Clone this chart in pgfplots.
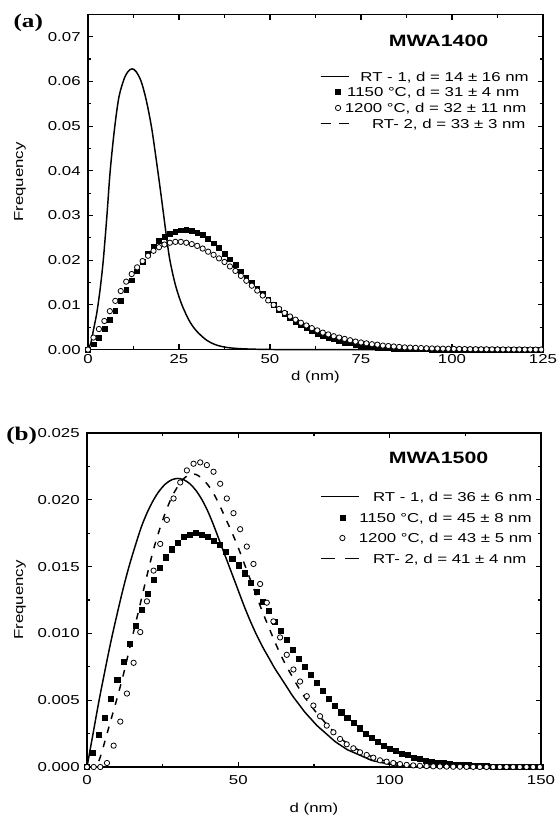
\documentclass[border=0pt]{standalone}
\usepackage{fontspec}
\setmainfont{Liberation Sans}[FakeStretch=1.3]
\newfontfamily\panelfont{Liberation Serif}[FakeStretch=1.3]
\usepackage{pgfplots}
\pgfplotsset{compat=1.18}

\pgfplotsset{
  panel/.style={
    scale only axis, anchor=south west, clip=false,
    tick align=inside,
    axis line style={line width=0.9pt},
    tick style={line width=0.8pt, black},
    major tick length=4pt, minor tick length=2.5pt,
    minor x tick num=1, minor y tick num=1,
    tick label style={font=\fontsize{9.7}{11}\selectfont},
    label style={font=\fontsize{9.7}{11}\selectfont},
    /pgf/number format/assume math mode=true,
    scaled y ticks=false,
    yticklabel style={/pgf/number format/fixed, /pgf/number format/fixed zerofill, xshift=-2pt},
    legend cell align=left,
    legend style={draw=none, fill=none, inner sep=0pt, outer sep=0pt,
      anchor=north west, font=\fontsize{9.7}{11}\selectfont,
      nodes={inner sep=0pt, text height=8pt, text depth=1pt}},
  },
  lineimg/.style={legend image code/.code={\draw[##1] (0pt,0pt) -- (#1,0pt);}},
  markimg/.style={legend image code/.code={\draw[##1] plot coordinates {(#1,0pt)};}},
  sq/.style={only marks, mark=square*, black, mark options={solid}},
  ci/.style={only marks, mark=*, mark options={solid, fill=white, draw=black, line width=0.6pt}},
}

\begin{document}
\begin{tikzpicture}
\useasboundingbox (0,0) rectangle (419.25pt,-613.5pt);

% ---------------- (a) MWA1400
\begin{axis}[panel,
  at={(66pt,-262.2pt)}, width=341.25pt, height=251.5pt,
  xmin=0, xmax=125, ymin=0, ymax=0.075,
  xtick={0,25,50,75,100,125},
  ytick={0,0.01,0.02,0.03,0.04,0.05,0.06,0.07},
  yticklabel style={/pgf/number format/precision=2},
  xlabel={d (nm)}, ylabel={Frequency},
  xlabel style={at={(axis description cs:0.5,-0.0817)}, anchor=center},
  ylabel style={at={(axis description cs:-0.1494,0.5)}, anchor=center},
  legend style={at={(axis description cs:0.5099,0.8328)}, row sep=2.85pt},
]
\addplot[black, line width=1.1pt, smooth, tension=0.5, lineimg=21pt] coordinates {
(0,0)(0.8,0.0015)(1.5,0.0044)(2.4,0.0081)(3.3,0.0133)(4.2,0.0200)(5.2,0.0300)
(6.1,0.0400)(7.3,0.0495)(8.5,0.0565)(9.9,0.0605)(11,0.0622)(12.1,0.0628)
(13.2,0.0622)(14.6,0.0600)(16,0.0558)(17.5,0.0495)(19,0.0410)(20,0.0350)
(20.8,0.0300)(21.6,0.0250)(22.5,0.0200)(24,0.0145)(25.8,0.0100)(28,0.0062)
(30,0.0040)(32.6,0.0021)(35,0.0011)(38,0.0005)(42,0.0002)(48,0.00005)
(55,0)(60,0)(70,0)(125,0)};
\addlegendentry{\hspace{8.25pt}RT - 1, d = 14 ± 16 nm}

\addplot[sq, mark size=1.8pt, markimg=13pt] coordinates {
(0,0)(1.5,0.0012)(3,0.0027)(4.5,0.0047)(6,0.0066)(7.5,0.0086)(9,0.0110)
(10.5,0.0133)(12,0.0155)(13.5,0.0175)(15,0.0196)(16.5,0.0215)(18,0.0231)
(19.5,0.0243)(21,0.0252)(22.5,0.0259)(24,0.0264)(25.5,0.0267)(27,0.0268)
(28.5,0.0266)(30,0.0262)(31.5,0.0256)(33,0.0248)(34.5,0.0238)(36,0.0227)
(37.5,0.0215)(39,0.0202)(40.5,0.0189)(42,0.0175)(43.5,0.0162)(45,0.0149)
(46.5,0.0136)(48,0.0124)(49.5,0.0112)(51,0.0100)(52.5,0.0090)(54,0.0080)
(55.5,0.0071)(57,0.0063)(58.5,0.0055)(60,0.0048)(61.5,0.0042)(63,0.0036)
(64.5,0.0031)(66,0.0027)(67.5,0.0023)(69,0.0019)(70.5,0.0016)(72,0.0014)
(73.5,0.0011)(75,0.0009)(76.5,0.0008)(78,0.0006)(79.5,0.0005)(81,0.0004)
(82.5,0.0003)(84,0.00025)(85.5,0.0002)(87,0.00015)(88.5,0.0001)(90,0.00008)
(91.5,0.00007)(93,0.00006)(94.5,0.00005)(96,0.00004)(97.5,0.00003)(99,0.00003)
(100.5,0.00002)(102,0.00002)(103.5,0.00001)(105,0)(106.5,0)(108,0)(109.5,0)
(111,0)(112.5,0)(114,0)(115.5,0)(117,0)(118.5,0)(120,0)(121.5,0)(123,0)(124.5,0)};
\addlegendentry{\hspace{-1.7pt}1150 °C, d = 31 ± 4 nm}

\addplot[ci, mark size=2pt, markimg=13pt] coordinates {
(0,0)(1.5,0.0027)(3,0.0046)(4.5,0.0064)(6,0.0086)(7.5,0.0109)(9,0.0131)
(10.5,0.0152)(12,0.0169)(13.5,0.0184)(15,0.0198)(16.5,0.0210)(18,0.0221)
(19.5,0.0229)(21,0.0235)(22.5,0.0239)(24,0.0241)(25.5,0.0241)(27,0.0239)
(28.5,0.0236)(30,0.0232)(31.5,0.0226)(33,0.0219)(34.5,0.0212)(36,0.0204)
(37.5,0.0196)(39,0.0186)(40.5,0.0176)(42,0.0165)(43.5,0.0154)(45,0.0143)
(46.5,0.0132)(48,0.0121)(49.5,0.0110)(51,0.0100)(52.5,0.0091)(54,0.0082)
(55.5,0.0074)(57,0.0067)(58.5,0.0060)(60,0.0054)(61.5,0.0048)(63,0.0043)
(64.5,0.0038)(66,0.0034)(67.5,0.0030)(69,0.0027)(70.5,0.0024)(72,0.0021)
(73.5,0.0018)(75,0.0016)(76.5,0.0014)(78,0.0012)(79.5,0.0011)(81,0.0009)
(82.5,0.0008)(84,0.0007)(85.5,0.0006)(87,0.0005)(88.5,0.00045)(90,0.0004)
(91.5,0.00035)(93,0.0003)(94.5,0.00027)(96,0.00024)(97.5,0.00021)(99,0.00018)
(100.5,0.00016)(102,0.00014)(103.5,0.00012)(105,0.0001)(106.5,0.00009)
(108,0.00008)(109.5,0.00007)(111,0.00006)(112.5,0.00005)(114,0.00004)
(115.5,0.00004)(117,0.00003)(118.5,0.00003)(120,0.00002)(121.5,0.00002)
(123,0.00001)(124.5,0.00001)};
\addlegendentry{\hspace{-3.5pt}1200 °C, d = 32 ± 11 nm}

\addlegendimage{black, line width=1.1pt, dash pattern=on 7.5pt off 6pt, lineimg=21pt}
\addlegendentry{\hspace{17pt}RT- 2, d = 33 ± 3 nm}

\node[font=\fontsize{12.3}{14}\selectfont\bfseries] at (rel axis cs:0.7704,0.9194) {MWA1400};
\end{axis}

% ---------------- (b) MWA1500
\begin{axis}[panel,
  at={(65.25pt,-575.25pt)}, width=340.5pt, height=250.5pt,
  xmin=0, xmax=150, ymin=0, ymax=0.025,
  xtick={0,50,100,150},
  ytick={0,0.005,0.01,0.015,0.02,0.025},
  yticklabel style={/pgf/number format/precision=3},
  xticklabel style={yshift=-2.5pt},
  xlabel={d (nm)}, ylabel={Frequency},
  xlabel style={at={(axis description cs:0.5,-0.1257)}, anchor=center},
  ylabel style={at={(axis description cs:-0.1476,0.5)}, anchor=center},
  legend style={at={(axis description cs:0.5147,0.8273)}, row sep=6.5pt},
]
% RT-2 drawn first, under the markers
\addplot[black, line width=1.1pt, dash pattern=on 5pt off 6pt, smooth, tension=0.5, forget plot] coordinates {
(0,0)(2,0)(3,0.0001)(4,0.0005)(5,0.0012)(6,0.0020)(7,0.0028)(8,0.0036)
(10,0.0052)(12,0.0069)(14,0.0088)(16,0.0107)(18,0.0126)(20,0.0145)(22,0.0163)
(24,0.0178)(26,0.0191)(28,0.0202)(30,0.0210)(32,0.0216)(34,0.0219)(36,0.0219)
(38,0.0216)(40,0.0211)(42,0.0204)(44,0.0195)(46,0.0185)(48,0.0175)(50,0.0164)
(52,0.0152)(54,0.0140)(56,0.0128)(58,0.0116)(60,0.0105)(62,0.0094)(64,0.0084)
(66,0.0075)(68,0.0067)(70,0.0059)(72,0.0052)(74,0.0046)(76,0.0040)(78,0.0035)
(80,0.0030)(84,0.0021)(88,0.0015)(92,0.0010)(96,0.0006)(100,0.0004)(105,0.0002)
(110,0.0001)(120,0.00003)(130,0.00001)(150,0)};

\addplot[black, line width=1.1pt, smooth, tension=0.5, lineimg=28pt] coordinates {
(0,0)(2,0.0025)(4,0.0050)(6,0.0073)(8,0.0095)(10,0.0115)(12,0.0134)(14,0.0151)
(16,0.0166)(18,0.0180)(20,0.0191)(22,0.0200)(24,0.0207)(26,0.0212)(28,0.0215)
(30,0.0216)(32,0.0215)(34,0.0212)(36,0.0207)(38,0.0200)(40,0.0191)(42,0.0180)
(44,0.0168)(46,0.0156)(48,0.0144)(50,0.0132)(52,0.0120)(54,0.0109)(56,0.0099)
(58,0.0090)(60,0.0082)(62,0.0074)(64,0.0067)(66,0.0060)(68,0.0053)(70,0.0047)
(72,0.0041)(74,0.0036)(76,0.0031)(78,0.0027)(80,0.0023)(82,0.0019)(84,0.0016)
(86,0.0013)(88,0.0011)(90,0.0009)(92,0.0007)(94,0.0005)(96,0.0004)(98,0.0003)
(100,0.0002)(105,0.0001)(110,0.00005)(120,0.00002)(130,0.00001)(150,0)};
\addlegendentry{\hspace{10.25pt}RT - 1, d = 36 ± 6 nm}

\addplot[sq, mark size=1.9pt, markimg=15.75pt] coordinates {
(0,0)(2,0.0011)(4,0.0024)(6,0.0037)(8,0.0051)(10,0.0065)(12,0.0079)(14,0.0092)
(16,0.0106)(18,0.0118)(20,0.0130)(22,0.0140)(24,0.0149)(26,0.0157)(28,0.0163)
(30,0.0168)(32,0.0172)(34,0.0174)(36,0.0175)(38,0.0174)(40,0.0172)(42,0.0169)
(44,0.0166)(46,0.0161)(48,0.0156)(50,0.0151)(52,0.0145)(54,0.0138)(56,0.0131)
(58,0.0124)(60,0.0117)(62,0.0109)(64,0.0102)(66,0.0095)(68,0.0088)(70,0.0081)
(72,0.0075)(74,0.0069)(76,0.0063)(78,0.0057)(80,0.0051)(82,0.0046)(84,0.0041)
(86,0.0037)(88,0.0033)(90,0.0029)(92,0.0025)(94,0.0022)(96,0.0019)(98,0.0016)
(100,0.0014)(102,0.0012)(104,0.0010)(106,0.0009)(108,0.0007)(110,0.0006)
(112,0.0005)(114,0.0004)(116,0.00035)(118,0.0003)(120,0.00025)(122,0.0002)
(124,0.00016)(126,0.00013)(128,0.0001)(130,0.00008)(132,0.00006)(134,0.00005)
(136,0.00004)(138,0.00003)(140,0.00002)(142,0.00002)(144,0.00001)(146,0.00001)
(148,0.00001)(150,0)};
\addlegendentry{1150 °C, d = 45 ± 8 nm}

\addplot[ci, mark size=2pt, markimg=15.75pt] coordinates {
(0,0)(2.2,0)(4.4,0)(6.6,0.0003)(8.8,0.0016)(11,0.0034)(13.2,0.0055)(15.4,0.0078)
(17.6,0.0101)(19.8,0.0124)(22,0.0147)(24.2,0.0167)(26.4,0.0185)(28.6,0.0201)
(30.8,0.0213)(33,0.0222)(35.2,0.0227)(37.4,0.0228)(39.6,0.0226)(41.8,0.0221)
(44,0.0212)(46.2,0.0201)(48.4,0.0190)(50.6,0.0178)(52.8,0.0165)(55,0.0152)
(57.2,0.0137)(59.4,0.0123)(61.6,0.0109)(63.8,0.0097)(66,0.0084)(68.2,0.0073)
(70.4,0.0064)(72.6,0.0053)(74.8,0.0046)(77,0.0038)(79.2,0.0031)(81.4,0.0026)
(83.6,0.0021)(85.8,0.0017)(88,0.0014)(90.2,0.0011)(92.4,0.0009)(94.6,0.0007)
(96.8,0.0005)(99,0.0004)(101.2,0.0003)(103.4,0.00022)(105.6,0.00016)
(107.8,0.00012)(110,0.00009)(112.2,0.00007)(114.4,0.00005)(116.6,0.00004)
(118.8,0.00003)(121,0.00002)(123.2,0.00002)(125.4,0.00001)(127.6,0.00001)
(129.8,0)(132,0)(134.2,0)(136.4,0)(138.6,0)(140.8,0)(143,0)(145.2,0)(147.4,0)(149.6,0)};
\addlegendentry{\hspace{-0.5pt}1200 °C, d = 43 ± 5 nm}

\addlegendimage{black, line width=1.1pt, dash pattern=on 10pt off 8pt, lineimg=28pt}
\addlegendentry{\hspace{10.25pt}RT- 2, d = 41 ± 4 nm}

\node[font=\fontsize{12.3}{14}\selectfont\bfseries] at (rel axis cs:0.7743,0.925) {MWA1500};
\end{axis}

\node[font=\panelfont\bfseries\fontsize{14.5}{16}\selectfont, anchor=west, inner sep=0pt] at (10pt,-17.25pt) {(a)};
\node[font=\panelfont\bfseries\fontsize{14.5}{16}\selectfont, anchor=west, inner sep=0pt] at (4.5pt,-327pt) {(b)};
\end{tikzpicture}
\end{document}
